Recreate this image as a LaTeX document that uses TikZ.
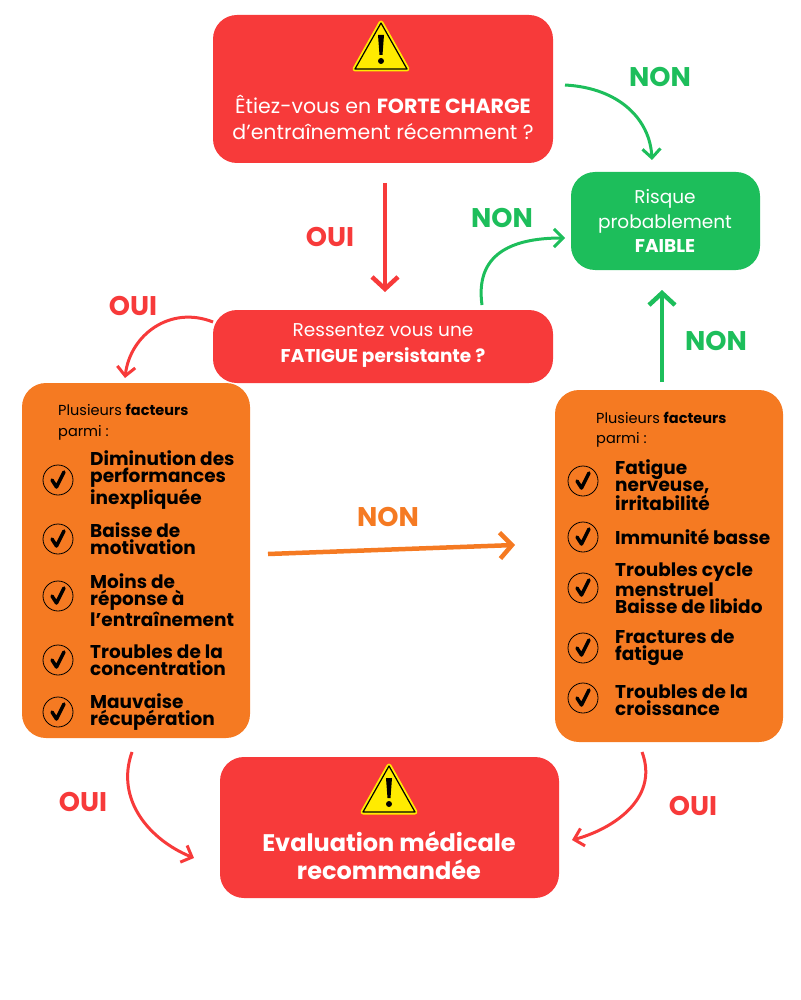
\documentclass[tikz,border=0pt]{standalone}
\usepackage{fontspec}
\setmainfont{Poppins}
\usetikzlibrary{arrows.meta}
\definecolor{rd}{HTML}{F73A3A}
\definecolor{gr}{HTML}{1DBE5B}
\definecolor{og}{HTML}{F57A22}
\definecolor{yl}{HTML}{FFEB00}
\tikzset{
 box/.style={rounded corners=24pt,draw=none},
 wt/.style={text=white,font=\fontsize{18.5}{18}\selectfont,align=center},
 lbl/.style={font=\fontsize{27}{27}\selectfont\bfseries},
 arr/.style={line width=4.5pt,-{Straight Barb[length=12pt,width=26pt,line width=4.5pt]}},
 carr/.style={line width=3pt,-{Straight Barb[length=9pt,width=18pt,line width=3pt]}},
 item/.style={anchor=west,align=left,font=\fontsize{18.5}{17}\selectfont\bfseries,text=black,inner sep=0pt},
 hdr/.style={anchor=west,font=\fontsize{14.5}{14}\selectfont,inner sep=0pt}
}
\newcommand{\warnsign}[2]{%
 \fill[yl,draw=yl,line width=5pt,line join=round] (#1,#2-24)--(#1+26,#2+22)--(#1-26,#2+22)--cycle;
 \draw[black,line width=1.2pt,line join=round] (#1,#2-24)--(#1+26,#2+22)--(#1-26,#2+22)--cycle;
 \fill[black] (#1-3,#2-12) -- (#1+3,#2-12) -- (#1+1.5,#2+8) -- (#1-1.5,#2+8) -- cycle;
 \fill[black] (#1,#2+14) circle (3);}
\newcommand{\chk}[2]{%
 \draw[black,line width=0.8pt] (#1,#2) circle (15);
 \draw[black,line width=3.5pt,line cap=round,line join=round] (#1-6,#2+0) -- (#1-1.5,#2+7) -- (#1+6,#2-8);}
\begin{document}
\begin{tikzpicture}[x=1pt,y=-1pt]
\useasboundingbox (0,0) rectangle (800,1000);
\fill[rd,box] (213,15) rectangle (553,163);
\fill[gr,box] (571,172) rectangle (760,270);
\fill[rd,box] (213,310) rectangle (553,383);
\fill[og,box] (22,383) rectangle (250,738);
\fill[og,box] (555,390) rectangle (783,742);
\fill[rd,box] (220,757) rectangle (559,898);
\warnsign{381}{47}
\warnsign{389}{790}
\node[wt,font=\fontsize{20.5}{18}\selectfont] (t1) at (383,117) {Êtiez-vous en \textbf{FORTE CHARGE}\\[8pt]d’entraînement récemment ?};
\node[wt] (tg) at (665,221) {Risque\\[6pt]probablement\\[6pt]\textbf{FAIBLE}};
\node[wt] (t2) at (383,346) {Ressentez vous une\\[8pt]\textbf{FATIGUE persistante ?}};
\node[wt,font=\fontsize{24}{28}\selectfont\bfseries] (t3) at (389,856) {Evaluation médicale\\recommandée};
\node[hdr] (hl1) at (58,410) {Plusieurs \textbf{facteurs}};
\node[hdr] (hl2) at (58,433) {parmi :};
\foreach \y in {480,539,596,660,712} {\chk{58}{\y}}
\node[item] (l1) at (90,480) {Diminution des\\performances\\inexpliquée};
\node[item] (l2) at (90,539) {Baisse de\\motivation};
\node[item] (l3) at (90,600) {Moins de\\réponse à\\l’entraînement};
\node[item] (l4) at (90,660) {Troubles de la\\concentration};
\node[item] (l5) at (90,712) {Mauvaise\\récupération};
\node[hdr] (hr1) at (596,418) {Plusieurs \textbf{facteurs}};
\node[hdr] (hr2) at (596,440) {parmi :};
\foreach \y in {481,537,588,648,698} {\chk{583}{\y}}
\node[item] (r1) at (615,485) {Fatigue\\nerveuse,\\irritabilité};
\node[item] (r2) at (615,537) {Immunité basse};
\node[item] (r3) at (615,588) {Troubles cycle\\menstruel\\Baisse de libido};
\node[item] (r4) at (615,648) {Fractures de\\fatigue};
\node[item] (r5) at (615,700) {Troubles de la\\croissance};
\coordinate (a1s) at (385,183); \coordinate (a1e) at (385,292);
\draw[arr,rd] (a1s) -- (a1e);
\node[lbl,text=rd] (o1) at (330,237) {OUI};
\coordinate (b1s) at (565,85); \coordinate (b1e) at (652,160);
\draw[carr,gr] (b1s) .. controls (620,88) and (650,120) .. (b1e);
\node[lbl,text=gr] (n1) at (660,77) {NON};
\coordinate (b2s) at (482,305); \coordinate (b2e) at (565,238);
\draw[carr,gr] (b2s) .. controls (475,255) and (510,238) .. (b2e);
\node[lbl,text=gr] (n2) at (502,218) {NON};
\coordinate (b3s) at (662,382); \coordinate (b3e) at (662,290);
\draw[arr,gr] (b3s) -- (b3e);
\node[lbl,text=gr] (n3) at (716,341) {NON};
\coordinate (c1s) at (213,322); \coordinate (c1e) at (125,378);
\draw[carr,rd] (c1s) .. controls (170,305) and (130,335) .. (c1e);
\node[lbl,text=rd] (o2) at (133,306) {OUI};
\coordinate (d1s) at (268,554); \coordinate (d1e) at (515,545);
\draw[arr,og] (d1s) -- (d1e);
\node[lbl,text=og] (n4) at (388,517) {NON};
\coordinate (e1s) at (132,752); \coordinate (e1e) at (194,858);
\draw[carr,rd] (e1s) .. controls (115,800) and (150,840) .. (e1e);
\node[lbl,text=rd] (o3) at (83,802) {OUI};
\coordinate (e2s) at (642,752); \coordinate (e2e) at (572,840);
\draw[carr,rd] (e2s) .. controls (660,800) and (610,830) .. (e2e);
\node[lbl,text=rd] (o4) at (693,806) {OUI};
\end{tikzpicture}
\end{document}
